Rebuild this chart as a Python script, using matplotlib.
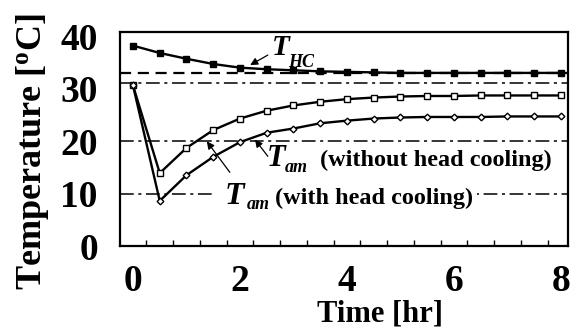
import matplotlib
matplotlib.use("Agg")
import matplotlib.pyplot as plt
import numpy as np

# ---- data ----
time_hr = [0, 0.5, 1, 1.5, 2, 2.5, 3, 3.5, 4, 4.5, 5, 5.5, 6, 6.5, 7, 7.5, 8]
t_hc = [38.2, 36.8, 35.7, 34.7, 34.0, 33.7, 33.5, 33.3, 33.2, 33.1, 33.0, 33.0, 33.0, 33.0, 33.0, 33.0, 33.0]
t_am_without = [30.6, 13.9, 18.7, 22.1, 24.3, 25.8, 26.8, 27.5, 28.0, 28.3, 28.5, 28.6, 28.6, 28.7, 28.7, 28.7, 28.7]
t_am_with = [30.6, 8.6, 13.5, 17.0, 19.8, 21.6, 22.4, 23.4, 23.9, 24.3, 24.5, 24.6, 24.6, 24.6, 24.7, 24.7, 24.7]
dashed_ref = [33.0]
dashdot_refs = [31.0, 20.0, 10.0]
x_ticks = [0, 2, 4, 6, 8]
y_ticks = [0, 10, 20, 30, 40]
minor_x = [0.25 + 0.5 * k for k in range(16)]

plt.rcParams['font.family'] = ['Liberation Serif', 'DejaVu Serif']
plt.rcParams['font.weight'] = 'bold'
plt.rcParams['mathtext.fontset'] = 'custom'
plt.rcParams['mathtext.it'] = 'Liberation Serif:italic:bold'
plt.rcParams['mathtext.rm'] = 'Liberation Serif:bold'
plt.rcParams['mathtext.bf'] = 'Liberation Serif:bold'

fig = plt.figure(figsize=(5.78, 3.31), dpi=100)
ax = fig.add_axes([120/578, 1-246/331, 448/578, 214/331])

for v in dashed_ref:
    ax.axhline(v, color='black', lw=1.6, ls=(0, (5, 3)), zorder=1)
for v in dashdot_refs:
    ax.axhline(v, color='black', lw=1.1, ls=(0, (9, 3, 2, 3)), zorder=1)

ax.plot(time_hr, t_hc, color='black', lw=1.7, marker='s', ms=4.5, mfc='black', mec='black', zorder=3)
ax.plot(time_hr, t_am_without, color='black', lw=1.7, marker='s', ms=4.2, mfc='white', mec='black', mew=1.0, zorder=3)
ax.plot(time_hr, t_am_with, color='black', lw=1.7, marker='D', ms=3.4, mfc='white', mec='black', mew=1.0, zorder=3)

ax.set_xlim(-0.243, 8.131)
ax.set_ylim(0, 40.8)
ax.set_xticks(x_ticks)
ax.set_xticklabels([str(t) for t in x_ticks])
ax.set_xticks(minor_x, minor=True)
ax.set_yticks(y_ticks)
ax.set_yticklabels([str(t) for t in y_ticks])
ax.tick_params(axis='x', which='major', length=0, pad=13, labelsize=27)
ax.tick_params(axis='x', which='minor', length=4, width=1, direction='in')
ax.tick_params(axis='y', which='major', length=0, pad=16, labelsize=27)
for sp in ax.spines.values():
    sp.set_linewidth(1.6)

ax.set_xlabel('Time [hr]', fontsize=22, fontweight='bold')
ax.xaxis.set_label_coords(0.58, -0.25)
ax.set_ylabel(r'Temperature [$^{\mathbf{o}}$C]', fontsize=26, fontweight='bold')
ax.yaxis.set_label_coords(-0.155, 0.44)

arrow = dict(arrowstyle='-|>', color='black', lw=0.9, mutation_scale=11, shrinkA=0, shrinkB=0)
bb = dict(boxstyle='square,pad=0.15', fc='white', ec='none')
bb_t = dict(boxstyle='square,pad=0.3', fc='white', ec='none')
bb_sub = dict(boxstyle='square,pad=0.35', fc='white', ec='none')

# T_HC label
ax.annotate('', xy=(2.19, 34.5), xytext=(2.52, 36.4), arrowprops=arrow, zorder=4)
ax.text(2.60, 36.48, 'T', fontsize=21, fontstyle='italic', ha='left', va='baseline', zorder=6)
ax.text(2.90, 34.2, 'HC', fontsize=13, fontstyle='italic', ha='left', va='baseline', zorder=6)

# T_am without head cooling
ax.annotate('', xy=(2.28, 20.3), xytext=(2.52, 17.1), arrowprops=arrow, zorder=4)
ax.text(2.50, 15.19, 'T', fontsize=22, fontstyle='italic', ha='left', va='baseline', zorder=6)
ax.text(2.84, 14.05, 'am', fontsize=13, fontstyle='italic', ha='left', va='baseline', zorder=6)
ax.text(3.49, 15.3, '(without head cooling)', fontsize=17.5, ha='left', va='baseline', zorder=5)

# T_am with head cooling (white background hides the reference line behind the label)
ax.annotate('', xy=(1.38, 19.95), xytext=(1.81, 14.05), arrowprops=arrow, zorder=4)
ax.text(1.72, 7.97, 'T', fontsize=23, fontstyle='italic', ha='left', va='baseline', zorder=5, bbox=bb_t)
ax.text(2.12, 7.0, 'am', fontsize=13, fontstyle='italic', ha='left', va='baseline', zorder=5.5, bbox=bb_sub)
ax.text(2.65, 8.0, '(with head cooling)', fontsize=17.5, ha='left', va='baseline', zorder=5, bbox=bb)

fig.savefig('out.png', dpi=100)
